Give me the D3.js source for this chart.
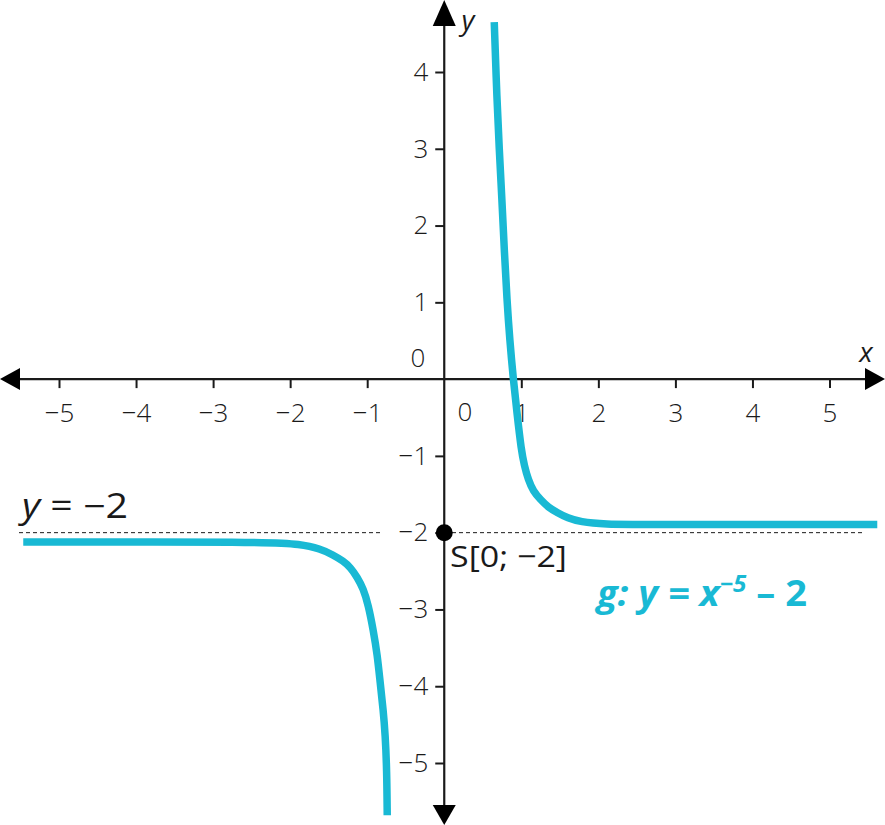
<!DOCTYPE html>
<html>
<head>
<meta charset="utf-8">
<script src="https://cdn.jsdelivr.net/npm/d3@7"></script>
<style>
  html, body { margin: 0; padding: 0; background: #fff; }
  svg { display: block; font-family: "Open Sans", sans-serif; }
</style>
</head>
<body>
<svg id="chart" width="885" height="825"></svg>
<script>
// ---- data ----
const xTicks = [-5, -4, -3, -2, -1, 1, 2, 3, 4, 5];
const yTicks = [-5, -4, -3, -2, -1, 1, 2, 3, 4];
// right branch of g
const rightX = [0.649, 0.684, 0.714, 0.749, 0.779, 0.814, 0.850, 0.896, 0.947, 0.999, 1.04, 1.09, 1.155, 1.25, 1.35, 1.47, 1.60, 1.77, 2.06, 2.67, 5.62];
const rightY = [4.65, 3.63, 2.99, 2.33, 1.68, 1.03, 0.51, 0.0, -0.47, -0.92, -1.13, -1.31, -1.46, -1.57, -1.67, -1.74, -1.81, -1.86, -1.89, -1.895, -1.895];
// left branch of g
const leftX = [-5.464, -2.297, -1.869, -1.609, -1.441, -1.311, -1.220, -1.129, -1.051, -0.986, -0.921, -0.869, -0.831, -0.792, -0.766, -0.746, -0.740];
const leftY = [-2.12, -2.12, -2.15, -2.21, -2.29, -2.37, -2.45, -2.58, -2.73, -2.94, -3.27, -3.59, -3.96, -4.31, -4.63, -5.09, -5.68];
const asymptoteY = -2;
const pointS = { x: 0, y: -2, label: "S[0; \u22122]" };

// ---- layout ----
const svg = d3.select("#chart");
const x = d3.scaleLinear().domain([-5, 5]).range([59, 829.5]);
const y = d3.scaleLinear().domain([-5, 4]).range([763, 72]);
const teal = "#19b9d4";
const ink = "#1a1a1a";
const fmt = v => (v < 0 ? "\u2212" + Math.abs(v) : String(v));

const x0 = x(0), y0 = y(0);

// dashed asymptote
svg.append("line").attr("x1", 19).attr("x2", 380).attr("y1", y(asymptoteY)).attr("y2", y(asymptoteY))
  .attr("stroke", ink).attr("stroke-width", 1).attr("stroke-dasharray", "4,3");
svg.append("line").attr("x1", 452).attr("x2", 862).attr("y1", y(asymptoteY)).attr("y2", y(asymptoteY))
  .attr("stroke", ink).attr("stroke-width", 1).attr("stroke-dasharray", "4,3");

// x axis
const xAxis = d3.axisBottom(x).tickValues(xTicks).tickSize(9).tickPadding(15).tickFormat(fmt);
const gx = svg.append("g").attr("transform", `translate(0,${y0})`).call(xAxis);
gx.select(".domain").remove();
gx.selectAll(".tick line").attr("stroke", ink).attr("stroke-width", 2);
gx.selectAll(".tick text").attr("font-size", 26).attr("font-weight", 300).attr("fill", ink).attr("font-family", "Open Sans");

// y axis
const yAxis = d3.axisLeft(y).tickValues(yTicks).tickSize(9).tickPadding(7).tickFormat(fmt);
const gy = svg.append("g").attr("transform", `translate(${x0},0)`).call(yAxis);
gy.select(".domain").remove();
gy.selectAll(".tick line").attr("stroke", ink).attr("stroke-width", 2);
gy.selectAll(".tick text").attr("font-size", 26).attr("font-weight", 300).attr("fill", ink).attr("font-family", "Open Sans");

// axis lines
svg.append("line").attr("x1", 18).attr("x2", 866).attr("y1", y0).attr("y2", y0)
  .attr("stroke", ink).attr("stroke-width", 2.2);
svg.append("line").attr("x1", x0).attr("x2", x0).attr("y1", 20).attr("y2", 806)
  .attr("stroke", ink).attr("stroke-width", 2.2);
// arrows
svg.append("path").attr("d", `M0,${y0} L20,${y0 - 11} L20,${y0 + 11} Z`).attr("fill", "#000");
svg.append("path").attr("d", `M885,${y0} L865,${y0 - 11} L865,${y0 + 11} Z`).attr("fill", "#000");
svg.append("path").attr("d", `M${x0},0 L${x0 - 11.5},26 L${x0 + 11.5},26 Z`).attr("fill", "#000");
svg.append("path").attr("d", `M${x0},825 L${x0 - 11.5},805 L${x0 + 11.5},805 Z`).attr("fill", "#000");

// zero labels
svg.append("text").attr("x", 418).attr("y", 367).attr("text-anchor", "middle")
  .attr("font-size", 26).attr("font-weight", 300).attr("fill", ink).text("0");
svg.append("text").attr("x", 465).attr("y", 421).attr("text-anchor", "middle")
  .attr("font-size", 26).attr("font-weight", 300).attr("fill", ink).text("0");
// axis names
svg.append("text").attr("x", 866).attr("y", 362).attr("text-anchor", "middle")
  .attr("font-size", 28).attr("font-style", "italic").attr("fill", ink).text("x");
svg.append("text").attr("x", 468).attr("y", 30).attr("text-anchor", "middle")
  .attr("font-size", 28).attr("font-style", "italic").attr("fill", ink).text("y");

// curve
const line = d3.line().x(d => x(d[0])).y(d => y(d[1])).curve(d3.curveBasis);
svg.append("path").datum(d3.zip(rightX, rightY)).attr("d", line)
  .attr("fill", "none").attr("stroke", teal).attr("stroke-width", 7.5);
svg.append("path").datum(d3.zip(leftX, leftY)).attr("d", line)
  .attr("fill", "none").attr("stroke", teal).attr("stroke-width", 7.5);

// point S
svg.append("circle").attr("cx", x(pointS.x)).attr("cy", y(pointS.y)).attr("r", 8.5).attr("fill", "#000");
svg.append("text").attr("x", 450).attr("y", 567).attr("font-size", 30).attr("fill", ink)
  .attr("textLength", 117).attr("lengthAdjust", "spacingAndGlyphs")
  .text(pointS.label);

// asymptote label
const al = svg.append("text").attr("x", 22).attr("y", 518).attr("font-size", 34).attr("fill", ink)
  .attr("xml:space", "preserve").attr("textLength", 106).attr("lengthAdjust", "spacingAndGlyphs");
al.append("tspan").attr("font-style", "italic").text("y");
al.append("tspan").text(" = \u2212" + Math.abs(asymptoteY));

// function label
const fl = svg.append("text").attr("x", 597).attr("y", 606).attr("font-size", 36)
  .attr("font-weight", "bold").attr("font-style", "italic").attr("fill", teal)
  .attr("textLength", 210).attr("lengthAdjust", "spacingAndGlyphs");
fl.append("tspan").text("g: y = x");
fl.append("tspan").attr("font-size", 23).attr("dy", -14).text("\u22125");
fl.append("tspan").attr("dy", 14).attr("font-style", "normal").text(" \u2013 2");
</script>
</body>
</html>
